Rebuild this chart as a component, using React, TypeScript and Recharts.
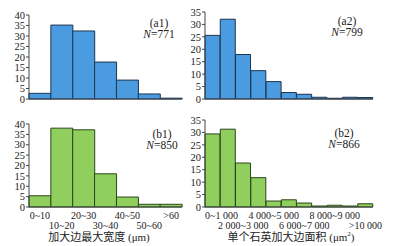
import React from "react";
import { BarChart, Bar, XAxis, YAxis } from "recharts";

const widthBins = ["0~10", "10~20", "20~30", "30~40", "40~50", "50~60", ">60"];
const areaBins = [
  "0~1 000",
  "1 000~2 000",
  "2 000~3 000",
  "3 000~4 000",
  "4 000~5 000",
  "5 000~6 000",
  "6 000~7 000",
  "7 000~8 000",
  "8 000~9 000",
  "9 000~10 000",
  ">10 000",
];
const areaTickLabels = [
  "0~1 000",
  "",
  "2 000~3 000",
  "",
  "4 000~5 000",
  "",
  "6 000~7 000",
  "",
  "8 000~9 000",
  "",
  ">10 000",
];

const a1Values = [2.7, 35.2, 32.4, 17.6, 9, 2.4, 0.4];
const a2Values = [25.6, 32.1, 17.9, 11.4, 7, 2.6, 1.9, 0.7, 0.3, 0.7, 0.6];
const b1Values = [5.4, 38, 37.2, 16, 4.8, 1.3, 1.3];
const b2Values = [29.4, 31.3, 17.7, 11.8, 2.4, 2.9, 1.6, 0.4, 0.7, 0.4, 1.3];

const ticks40 = [0, 5, 10, 15, 20, 25, 30, 35, 40];
const ticks35 = [0, 5, 10, 15, 20, 25, 30, 35];

const SERIF = "Liberation Serif, Times New Roman, DejaVu Serif, serif";
const CJK = "Liberation Serif, Noto Sans CJK SC, serif";
const BLUE = "#4a9be0";
const BLUE_EDGE = "#1d3550";
const GREEN = "#90cf5e";
const GREEN_EDGE = "#2a461b";
const AXIS = "#444";

function toRows(bins: string[], values: number[]) {
  return bins.map((bin, i) => ({ bin, value: values[i] }));
}

function TwoRowTick(props: any) {
  const { x, y, payload, labels, bandwidth, firstStart } = props;
  const i = payload.index;
  const text = labels[i];
  if (!text) return null;
  let n = 0;
  for (let k = 0; k < i; k++) if (labels[k]) n++;
  const dy = n % 2 === 0 ? 12 : 22;
  const start = firstStart && i === 0;
  return (
    <text
      x={start ? x - bandwidth / 2 : x}
      y={y + dy}
      textAnchor={start ? "start" : "middle"}
      fontSize={10}
      fontFamily={SERIF}
      fill="#222"
    >
      {text}
    </text>
  );
}

interface PanelProps {
  data: { bin: string; value: number }[];
  left: number;
  top: number;
  width: number;
  height: number;
  margin: { top: number; right: number; left: number; bottom: number };
  max: number;
  ticks: number[];
  fill: string;
  edge: string;
  xHeight: number;
  labels?: string[];
  firstStart?: boolean;
}

function Panel(p: PanelProps) {
  const plotWidth = p.width - p.margin.left - p.margin.right - 29;
  const bandwidth = plotWidth / p.data.length;
  return (
    <div style={{ position: "absolute", left: p.left, top: p.top }}>
      <BarChart
        width={p.width}
        height={p.height}
        data={p.data}
        margin={p.margin}
        barCategoryGap={0}
      >
        <XAxis
          dataKey="bin"
          height={p.xHeight}
          interval={0}
          tickLine={false}
          tickSize={0}
          tickMargin={0}
          axisLine={{ stroke: AXIS }}
          tick={
            p.labels ? (
              <TwoRowTick
                labels={p.labels}
                bandwidth={bandwidth}
                firstStart={p.firstStart}
              />
            ) : (
              false
            )
          }
        />
        <YAxis
          width={29}
          domain={[0, p.max]}
          ticks={p.ticks}
          interval={0}
          tickSize={3}
          tickMargin={1}
          axisLine={{ stroke: AXIS }}
          tickLine={{ stroke: AXIS }}
          tick={{ fontSize: 10.5, fontFamily: SERIF, fill: "#222" }}
        />
        <Bar
          dataKey="value"
          fill={p.fill}
          stroke={p.edge}
          strokeWidth={1}
          isAnimationActive={false}
        />
      </BarChart>
    </div>
  );
}

function Note({ x, y, tag, n }: { x: number; y: number; tag: string; n: number }) {
  const style: React.CSSProperties = {
    position: "absolute",
    left: x - 30,
    width: 60,
    textAlign: "center",
    fontFamily: SERIF,
    fontSize: 11.5,
    color: "#222",
    lineHeight: "11px",
    whiteSpace: "nowrap",
  };
  return (
    <>
      <div style={{ ...style, top: y - 6 }}>({tag})</div>
      <div style={{ ...style, top: y + 5 }}>
        <i>N</i>={n}
      </div>
    </>
  );
}

function Title({ x, y, children }: { x: number; y: number; children: React.ReactNode }) {
  return (
    <div
      style={{
        position: "absolute",
        left: x - 100,
        width: 200,
        top: y - 6,
        textAlign: "center",
        fontFamily: CJK,
        fontSize: 11,
        lineHeight: "12px",
        color: "#222",
        whiteSpace: "nowrap",
      }}
    >
      {children}
    </div>
  );
}

export default function App() {
  return (
    <div
      style={{
        position: "absolute",
        left: 0,
        top: 0,
        width: 398,
        height: 246,
        background: "#fff",
        overflow: "hidden",
      }}
    >
      <Panel
        data={toRows(widthBins, a1Values)}
        left={0}
        top={0}
        width={198}
        height={110}
        margin={{ top: 15, right: 16, left: 0, bottom: 0 }}
        max={40}
        ticks={ticks40}
        fill={BLUE}
        edge={BLUE_EDGE}
        xHeight={11}
      />
      <Panel
        data={toRows(areaBins, a2Values)}
        left={176}
        top={0}
        width={222}
        height={110}
        margin={{ top: 12, right: 25, left: 0, bottom: 0 }}
        max={35}
        ticks={ticks35}
        fill={BLUE}
        edge={BLUE_EDGE}
        xHeight={11}
      />
      <Panel
        data={toRows(widthBins, b1Values)}
        left={0}
        top={110}
        width={198}
        height={136}
        margin={{ top: 14, right: 16, left: 0, bottom: 0 }}
        max={40}
        ticks={ticks40}
        fill={GREEN}
        edge={GREEN_EDGE}
        xHeight={39}
        labels={widthBins}
      />
      <Panel
        data={toRows(areaBins, b2Values)}
        left={176}
        top={110}
        width={222}
        height={136}
        margin={{ top: 10, right: 25, left: 0, bottom: 0 }}
        max={35}
        ticks={ticks35}
        fill={GREEN}
        edge={GREEN_EDGE}
        xHeight={39}
        labels={areaTickLabels}
        firstStart
      />
      <Note x={159} y={24} tag="a1" n={771} />
      <Note x={347} y={22} tag="a2" n={799} />
      <Note x={162} y={135} tag="b1" n={850} />
      <Note x={344} y={134} tag="b2" n={866} />
      <Title x={99} y={237}>加大边最大宽度 (μm)</Title>
      <Title x={291} y={237}>
        单个石英加大边面积 (μm<sup style={{ fontSize: 7, lineHeight: 0 }}>2</sup>)
      </Title>
    </div>
  );
}
